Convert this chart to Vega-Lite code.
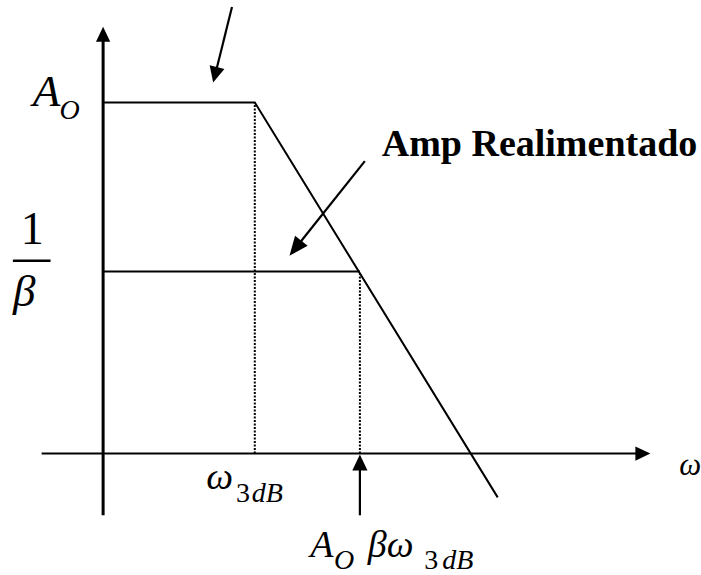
{
  "$schema": "https://vega.github.io/schema/vega-lite/v6.json",
  "width": 701,
  "height": 575,
  "autosize": {"type": "fit", "contains": "padding"},
  "padding": 0,
  "background": "white",
  "config": {"view": {"stroke": null}, "text": {"font": "Times New Roman, Liberation Serif, serif"}},
  "datasets": {
    "segmentos": [
      {"grupo": "eje_v", "x": 0, "y": -62, "x2": 0, "y2": 415},
      {"grupo": "eje_h", "x": -62, "y": 0, "x2": 539, "y2": 0},
      {"grupo": "guia", "x": 153, "y": 0, "x2": 153, "y2": 353},
      {"grupo": "guia", "x": 259, "y": 0, "x2": 259, "y2": 183},
      {"grupo": "flecha", "x": 259, "y": -62, "x2": 259, "y2": -14},
      {"grupo": "flecha", "x": 130, "y": 449, "x2": 114.2, "y2": 385.6},
      {"grupo": "flecha", "x": 264, "y": 294, "x2": 198, "y2": 211.5},
      {"grupo": "fraccion", "x": -91, "y": 194, "x2": -53, "y2": 194}
    ],
    "curva": [
      {"tramo": "lazo abierto", "orden": 1, "x": 0, "y": 353},
      {"tramo": "lazo abierto", "orden": 2, "x": 153, "y": 353},
      {"tramo": "lazo abierto", "orden": 3, "x": 398, "y": -44},
      {"tramo": "realimentado", "orden": 1, "x": 0, "y": 183},
      {"tramo": "realimentado", "orden": 2, "x": 259, "y": 183}
    ],
    "puntas": [
      {"grupo": "eje", "x": 0, "y": 429, "rumbo": 0},
      {"grupo": "eje", "x": 552, "y": 0, "rumbo": 90},
      {"grupo": "nota", "x": 259, "y": -1, "rumbo": 0},
      {"grupo": "nota", "x": 111, "y": 373, "rumbo": 194},
      {"grupo": "grande", "x": 188, "y": 199, "rumbo": 218.6}
    ],
    "rotulos": [
      {"estilo": "it_grande", "t": "A", "x": -71, "y": 349},
      {"estilo": "sub_grande", "t": "O", "x": -44, "y": 336},
      {"estilo": "rom_grande", "t": "1", "x": -71.5, "y": 211},
      {"estilo": "it_grande", "t": "β", "x": -91, "y": 148},
      {"estilo": "it_medio", "t": "ω", "x": 104, "y": -36},
      {"estilo": "rom_sub", "t": "3", "x": 134, "y": -49},
      {"estilo": "it_sub", "t": "dB", "x": 150, "y": -49},
      {"estilo": "it_medio", "t": "A", "x": 209, "y": -104},
      {"estilo": "it_sub", "t": "O", "x": 233, "y": -116},
      {"estilo": "it_medio", "t": "βω", "x": 267, "y": -104},
      {"estilo": "rom_sub", "t": "3", "x": 324, "y": -116},
      {"estilo": "it_sub", "t": "dB", "x": 342, "y": -116},
      {"estilo": "negrita", "t": "Amp Realimentado", "x": 281, "y": 299},
      {"estilo": "eje", "t": "ω", "x": 581, "y": -21}
    ]
  },
  "encoding": {
    "x": {"field": "x", "type": "quantitative", "scale": {"domain": [-104, 597], "nice": false, "zero": false}, "axis": null},
    "y": {"field": "y", "type": "quantitative", "scale": {"domain": [-119, 456], "nice": false, "zero": false}, "axis": null}
  },
  "layer": [
    {
      "data": {"name": "segmentos"},
      "transform": [{"filter": "datum.grupo === 'eje_v'"}],
      "mark": {"type": "rule", "color": "black", "strokeWidth": 3},
      "encoding": {"x2": {"field": "x2"}, "y2": {"field": "y2"}}
    },
    {
      "data": {"name": "segmentos"},
      "transform": [{"filter": "datum.grupo === 'eje_h'"}],
      "mark": {"type": "rule", "color": "black", "strokeWidth": 2},
      "encoding": {"x2": {"field": "x2"}, "y2": {"field": "y2"}}
    },
    {
      "data": {"name": "segmentos"},
      "transform": [{"filter": "datum.grupo === 'guia'"}],
      "mark": {"type": "rule", "color": "black", "strokeWidth": 2, "strokeDash": [2, 1.5]},
      "encoding": {"x2": {"field": "x2"}, "y2": {"field": "y2"}}
    },
    {
      "data": {"name": "segmentos"},
      "transform": [{"filter": "datum.grupo === 'flecha'"}],
      "mark": {"type": "rule", "color": "black", "strokeWidth": 2.2},
      "encoding": {"x2": {"field": "x2"}, "y2": {"field": "y2"}}
    },
    {
      "data": {"name": "segmentos"},
      "transform": [{"filter": "datum.grupo === 'fraccion'"}],
      "mark": {"type": "rule", "color": "black", "strokeWidth": 2.5},
      "encoding": {"x2": {"field": "x2"}, "y2": {"field": "y2"}}
    },
    {
      "data": {"name": "curva"},
      "mark": {"type": "line", "color": "black", "strokeWidth": 2, "strokeJoin": "miter"},
      "encoding": {
        "detail": {"field": "tramo"},
        "order": {"field": "orden", "type": "quantitative"}
      }
    },
    {
      "data": {"name": "puntas"},
      "transform": [{"filter": "datum.grupo === 'eje'"}],
      "mark": {"type": "point", "shape": "M0,0L-0.95,2L0.95,2Z", "filled": true, "color": "black", "opacity": 1, "strokeWidth": 0, "size": 225},
      "encoding": {"angle": {"field": "rumbo", "type": "quantitative", "scale": null}}
    },
    {
      "data": {"name": "puntas"},
      "transform": [{"filter": "datum.grupo === 'nota'"}],
      "mark": {"type": "point", "shape": "M0,0L-0.95,2L0.95,2Z", "filled": true, "color": "black", "opacity": 1, "strokeWidth": 0, "size": 256},
      "encoding": {"angle": {"field": "rumbo", "type": "quantitative", "scale": null}}
    },
    {
      "data": {"name": "puntas"},
      "transform": [{"filter": "datum.grupo === 'grande'"}],
      "mark": {"type": "point", "shape": "M0,0L-0.85,2L0.85,2Z", "filled": true, "color": "black", "opacity": 1, "strokeWidth": 0, "size": 361},
      "encoding": {"angle": {"field": "rumbo", "type": "quantitative", "scale": null}}
    },
    {
      "data": {"name": "rotulos"},
      "transform": [{"filter": "datum.estilo === 'it_grande'"}],
      "mark": {"type": "text", "fontStyle": "italic", "fontSize": 45, "align": "left", "baseline": "alphabetic", "color": "black"},
      "encoding": {"text": {"field": "t"}}
    },
    {
      "data": {"name": "rotulos"},
      "transform": [{"filter": "datum.estilo === 'sub_grande'"}],
      "mark": {"type": "text", "fontStyle": "italic", "fontSize": 28, "align": "left", "baseline": "alphabetic", "color": "black"},
      "encoding": {"text": {"field": "t"}}
    },
    {
      "data": {"name": "rotulos"},
      "transform": [{"filter": "datum.estilo === 'rom_grande'"}],
      "mark": {"type": "text", "fontSize": 46, "align": "center", "baseline": "alphabetic", "color": "black"},
      "encoding": {"text": {"field": "t"}}
    },
    {
      "data": {"name": "rotulos"},
      "transform": [{"filter": "datum.estilo === 'it_medio'"}],
      "mark": {"type": "text", "fontStyle": "italic", "fontSize": 38, "align": "left", "baseline": "alphabetic", "color": "black"},
      "encoding": {"text": {"field": "t"}}
    },
    {
      "data": {"name": "rotulos"},
      "transform": [{"filter": "datum.estilo === 'it_sub'"}],
      "mark": {"type": "text", "fontStyle": "italic", "fontSize": 28, "align": "left", "baseline": "alphabetic", "color": "black"},
      "encoding": {"text": {"field": "t"}}
    },
    {
      "data": {"name": "rotulos"},
      "transform": [{"filter": "datum.estilo === 'rom_sub'"}],
      "mark": {"type": "text", "fontSize": 28, "align": "left", "baseline": "alphabetic", "color": "black"},
      "encoding": {"text": {"field": "t"}}
    },
    {
      "data": {"name": "rotulos"},
      "transform": [{"filter": "datum.estilo === 'negrita'"}],
      "mark": {"type": "text", "fontWeight": "bold", "fontSize": 38, "align": "left", "baseline": "alphabetic", "color": "black"},
      "encoding": {"text": {"field": "t"}}
    },
    {
      "data": {"name": "rotulos"},
      "transform": [{"filter": "datum.estilo === 'eje'"}],
      "mark": {"type": "text", "fontStyle": "italic", "fontSize": 31, "align": "left", "baseline": "alphabetic", "color": "black"},
      "encoding": {"text": {"field": "t"}}
    }
  ]
}
